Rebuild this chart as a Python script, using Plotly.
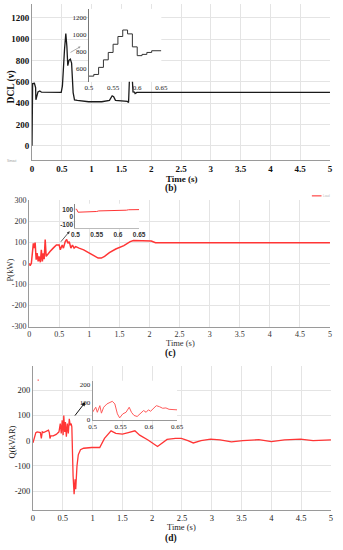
import plotly.graph_objects as go

W, H = 343, 550

# ---------------- data ----------------
# (b) DC link voltage (V)
dcl_t = [0, 0.005, 0.01, 0.04, 0.06, 0.065, 0.075, 0.1, 0.13, 0.16, 0.49, 0.51, 0.545, 0.567,
         0.585, 0.6, 0.62, 0.643, 0.664, 0.69, 0.713, 0.76, 0.95, 1.17, 1.3, 1.345, 1.37, 1.4,
         1.6, 1.62, 1.64, 1.655, 1.675, 1.695, 1.72, 1.73, 1.76, 5.0]
dcl_v = [0, 560, 582, 585, 545, 430, 452, 505, 514, 502, 500, 560, 900, 1052,
         930, 750, 800, 812, 775, 498, 430, 425, 412, 412, 425, 468, 460, 425,
         415, 405, 700, 900, 700, 505, 502, 490, 500, 500]
# (b) inset zoom 0.5-0.65 s (step-like)
dcl_zoom_t = [0.5, 0.51, 0.51, 0.52, 0.52, 0.53, 0.53, 0.54, 0.54, 0.55, 0.55, 0.56, 0.56, 0.57,
              0.57, 0.58, 0.58, 0.59, 0.59, 0.6, 0.6, 0.61, 0.61, 0.62, 0.62, 0.63, 0.63, 0.65]
dcl_zoom_v = [511, 511, 531, 531, 615, 615, 704, 704, 792, 792, 889, 889, 981, 981,
              1058, 1058, 1012, 1012, 858, 858, 754, 754, 769, 769, 792, 792, 812, 812]

# (c) active power P (kW)
p_t = [0, 0.016, 0.037, 0.053, 0.07, 0.08, 0.1, 0.117, 0.133, 0.15, 0.165, 0.187, 0.203, 0.22,
       0.235, 0.25, 0.267, 0.283, 0.3, 0.347, 0.4, 0.453, 0.5, 0.518, 0.55, 0.57, 0.6, 0.624,
       0.645, 0.667, 0.694, 0.72, 0.747, 0.774, 0.83, 0.907, 0.987, 1.067, 1.147, 1.2, 1.254,
       1.334, 1.44, 1.574, 1.68, 1.734, 1.95, 2.03, 2.1, 2.21, 3.0, 4.0, 5.0]
p_v = [0, -11, 0, 72, 95, 72, 98, 17, 48, 9, 33, 5, 64, 9,
       48, 20, 113, 33, 40, 56, 72, 87, 87, 64, 87, 72, 103, 113,
       95, 103, 72, 87, 72, 79, 72, 64, 51, 36, 25, 25, 33,
       51, 68, 84, 103, 108, 108, 106, 98, 97, 97, 97, 97]
# (c) inset zoom
p_zoom_t = [0.5, 0.503, 0.506, 0.52, 0.53, 0.535, 0.55, 0.555, 0.6, 0.605, 0.62, 0.625, 0.65]
p_zoom_v = [110, 108, 68, 70, 72, 76, 78, 86, 88, 94, 96, 102, 104]

# (d) reactive power Q (kVAR)
q_t = [0, 0.016, 0.03, 0.048, 0.07, 0.124, 0.14, 0.156, 0.178, 0.205, 0.23, 0.26, 0.275, 0.285,
       0.3, 0.34, 0.39, 0.436, 0.458, 0.474, 0.49, 0.506, 0.517, 0.533, 0.544, 0.56, 0.576,
       0.593, 0.609, 0.625, 0.641, 0.652, 0.673, 0.69, 0.706, 0.717, 0.738, 0.76, 0.797, 0.85,
       0.986, 1.12, 1.2, 1.31, 1.39, 1.5, 1.6, 1.71, 1.79, 1.93, 2.09, 2.17, 2.25, 2.39, 2.49,
       2.6, 2.69, 2.82, 2.98, 3.14, 3.33, 3.52, 3.79, 4.0, 4.22, 4.49, 4.7, 5.0]
q_v = [-8, 9, 13, 32, 35, 32, 9, 35, 32, 35, 39, 42, 31, 9,
       19, 19, 25, 35, 68, 29, 81, 22, 100, 35, 74, 16, 68,
       29, 87, 61, 68, 55, -140, -212, -153, -192, -101, -56, -36, -30,
       -27, -27, 9, 39, 29, 26, 32, 39, 22, 3, -23, -10, 5, 9, 9,
       0, -9, 0, 6, 3, -5, 0, 4, -4, 3, 6, 0, 3]
# (d) inset zoom
q_zoom_t = [0.5, 0.5057, 0.5085, 0.513, 0.5158, 0.5198, 0.5255, 0.5311, 0.5351, 0.5396,
            0.5441, 0.5481, 0.5538, 0.5594, 0.5651, 0.5691, 0.5736, 0.5792, 0.5849, 0.5906,
            0.5951, 0.5991, 0.6030, 0.6075, 0.6132, 0.6189, 0.6245, 0.6302, 0.6358, 0.65]
q_zoom_v = [43, 72, 43, 81, 38, 72, 91, 100, 106, 91, 34, 11, 34, 43, 72, 43, 25, 19,
            34, 53, 43, 57, 49, 62, 81, 75, 66, 68, 60, 57]

x_ticks = [0, 0.5, 1, 1.5, 2, 2.5, 3, 3.5, 4, 4.5, 5]
x_ticktext = ["0", "0.5", "1", "1.5", "2", "2.5", "3", "3.5", "4", "4.5", "5"]
b_yticks = [0, 200, 400, 600, 800, 1000, 1200]
c_yticks = [-300, -200, -100, 0, 100, 200, 300]
c_yticktext = ["-300", "-200", "-100", "0", "100", "200", "300"]
d_yticks = [-200, -100, 0, 100, 200]
d_yticktext = ["-200", "-100", "0", "100", "200"]
zoom_xticks = [0.5, 0.55, 0.6, 0.65]
zoom_xticktext = ["0.5", "0.55", "0.6", "0.65"]

RED = "#ff3535"
SERIF = "Liberation Serif, Times New Roman, serif"
SANS = "Liberation Sans, Arial, sans-serif"
GRID = "#e4e4e4"


def px(x):
    return x / W


def py(y):
    return 1 - y / H


fig = go.Figure()

fig.add_trace(go.Scatter(x=dcl_t, y=dcl_v, mode="lines", line=dict(color="#1a1a1a", width=1.3),
                         xaxis="x", yaxis="y", showlegend=False))
fig.add_trace(go.Scatter(x=dcl_zoom_t, y=dcl_zoom_v, mode="lines", line=dict(color="#333", width=1),
                         xaxis="x2", yaxis="y2", showlegend=False))
fig.add_trace(go.Scatter(x=p_t, y=p_v, mode="lines", line=dict(color=RED, width=1.5),
                         xaxis="x3", yaxis="y3", showlegend=False))
fig.add_trace(go.Scatter(x=p_zoom_t, y=p_zoom_v, mode="lines", line=dict(color=RED, width=1),
                         xaxis="x4", yaxis="y4", showlegend=False))
fig.add_trace(go.Scatter(x=q_t, y=q_v, mode="lines", line=dict(color=RED, width=1.3),
                         xaxis="x5", yaxis="y5", showlegend=False))
fig.add_trace(go.Scatter(x=q_zoom_t, y=q_zoom_v, mode="lines", line=dict(color="#ff5a5a", width=1),
                         xaxis="x6", yaxis="y6", showlegend=False))

main_x_common = dict(range=[0, 5.004], tickvals=x_ticks, ticktext=x_ticktext, showgrid=True,
                     gridcolor=GRID, gridwidth=1, zeroline=False, showline=True,
                     linecolor="#9a9a9a", linewidth=1, ticks="", fixedrange=True,
                     ticklabeloverflow="allow")
main_y_common = dict(showgrid=True, gridcolor=GRID, gridwidth=1, zeroline=False, showline=True,
                     linecolor="#9a9a9a", linewidth=1, ticks="", fixedrange=True,
                     ticklabeloverflow="allow")
inset_common = dict(showgrid=False, zeroline=False, ticks="", fixedrange=True,
                    ticklabeloverflow="allow")

b_font = dict(family=SERIF, size=9, color="#111", weight="bold")
c_font = dict(family=SERIF, size=8, color="#333")
d_font = dict(family=SERIF, size=8.5, color="#222")

fig.update_layout(
    width=W, height=H, margin=dict(l=0, r=0, t=0, b=0),
    paper_bgcolor="white", plot_bgcolor="white", showlegend=False,
    # (b) main
    xaxis=dict(domain=[px(28), px(337)], anchor="y", tickfont=b_font, **main_x_common),
    yaxis=dict(domain=[py(159), py(0)], anchor="x", range=[-138, 1329], tickvals=b_yticks,
               tickfont=b_font, **main_y_common),
    # (b) inset
    xaxis2=dict(domain=[px(87), px(162)], anchor="y2", range=[0.5, 0.65], tickvals=zoom_xticks,
                ticktext=zoom_xticktext, showline=False,
                tickfont=dict(family=SERIF, size=7, color="#222"), **inset_common),
    yaxis2=dict(domain=[py(79), py(5)], anchor="x2", range=[445, 1308], tickvals=[600, 800, 1000, 1200],
                showline=True, linecolor="#777", linewidth=1,
                tickfont=dict(family=SERIF, size=7, color="#222"), **inset_common),
    # (c) main
    xaxis3=dict(domain=[px(25), px(337)], anchor="y3", tickfont=c_font, **main_x_common),
    yaxis3=dict(domain=[py(328), py(199.3)], anchor="x3", range=[-300, 300], tickvals=c_yticks,
                ticktext=c_yticktext, tickfont=c_font, **main_y_common),
    # (c) inset
    xaxis4=dict(domain=[px(73), px(139)], anchor="y4", range=[0.5, 0.65], tickvals=zoom_xticks,
                ticktext=zoom_xticktext, showline=True, linecolor="#bbb", linewidth=1,
                tickfont=dict(family=SANS, size=6.5, color="#333", weight="bold"), **inset_common),
    yaxis4=dict(domain=[py(228), py(203)], anchor="x4", range=[-154, 186], tickvals=[-100, 0, 100],
                ticktext=["-100", "0", "100"], showline=True, linecolor="#888", linewidth=1,
                tickfont=dict(family=SANS, size=6.5, color="#333", weight="bold"), **inset_common),
    # (d) main
    xaxis5=dict(domain=[px(29), px(338)], anchor="y5", tickfont=d_font, **main_x_common),
    yaxis5=dict(domain=[py(514), py(368)], anchor="x5", range=[-273, 296], tickvals=d_yticks,
                ticktext=d_yticktext, tickfont=d_font, **main_y_common),
    # (d) inset
    xaxis6=dict(domain=[px(90.7), px(178.3)], anchor="y6", range=[0.5, 0.65], tickvals=zoom_xticks,
                ticktext=zoom_xticktext, showline=True, linecolor="#999", linewidth=1,
                tickfont=dict(family=SERIF, size=7, color="#222"), **inset_common),
    yaxis6=dict(domain=[py(422.7), py(383)], anchor="x6", range=[0, 224], tickvals=[0, 100, 200],
                showline=True, linecolor="#999", linewidth=1,
                tickfont=dict(family=SERIF, size=7, color="#222"), **inset_common),
)


def label(text, x, y, size=9, bold=False, angle=0, color="#111", family=SERIF):
    fig.add_annotation(text=text, x=px(x), y=py(y), xref="paper", yref="paper", showarrow=False,
                       textangle=angle, xanchor="center", yanchor="middle",
                       font=dict(family=family, size=size, color=color,
                                 weight="bold" if bold else "normal"))


def arrow(x_head, y_head, x_tail, y_tail, color, width, size):
    fig.add_annotation(x=px(x_head), y=py(y_head), xref="paper", yref="paper",
                       axref="pixel", ayref="pixel", ax=x_tail - x_head, ay=y_tail - y_head,
                       showarrow=True, arrowhead=2, arrowsize=size, arrowwidth=width,
                       arrowcolor=color, text="")


# axis titles & captions
label("DCL (v)", 7, 84, size=9.5, bold=True, angle=-90)
label("Time (s)", 183, 177.5, size=9, bold=True)
label("(b)", 172, 188, size=9.5, bold=True)
label("P(kW)", 5, 270, size=8.5, angle=-90, color="#333")
label("Time (s)", 182, 344.5, size=8.5, color="#333")
label("(c)", 172, 355, size=9.5, bold=True)
label("Q(kVAR)", 7, 445, size=8.5, angle=-90, color="#222")
label("Time (s)", 183, 532, size=8.5, color="#222")
label("(d)", 172, 543, size=9.5, bold=True)

# small stray marks from the source figure
label("Simout", 7, 160, size=3, color="#999", family=SANS)
label("Load", 333, 195, size=3, color="#bbb", family=SANS)
fig.add_shape(type="line", xref="paper", yref="paper", x0=px(318), x1=px(328), y0=py(195), y1=py(195),
              line=dict(color="#ff6b6b", width=1.5))
fig.add_shape(type="rect", xref="paper", yref="paper", x0=px(33.8), x1=px(35), y0=py(383), y1=py(381.8),
              line=dict(width=0), fillcolor="#ff4040")

# pointer arrows
arrow(78.3, 43.3, 66.7, 50, "#999", 0.8, 0.6)
arrow(67, 231, 57, 243, "#333", 0.8, 0.7)
arrow(83.3, 404.7, 71.7, 419.7, "#111", 1, 0.8)

# remove the default 8px page margin so the 343x550 figure fills the window exactly
fig.write_html("out.html", config={"displayModeBar": False, "staticPlot": True},
               post_script="document.body.style.margin='0';document.body.style.overflow='hidden';")
